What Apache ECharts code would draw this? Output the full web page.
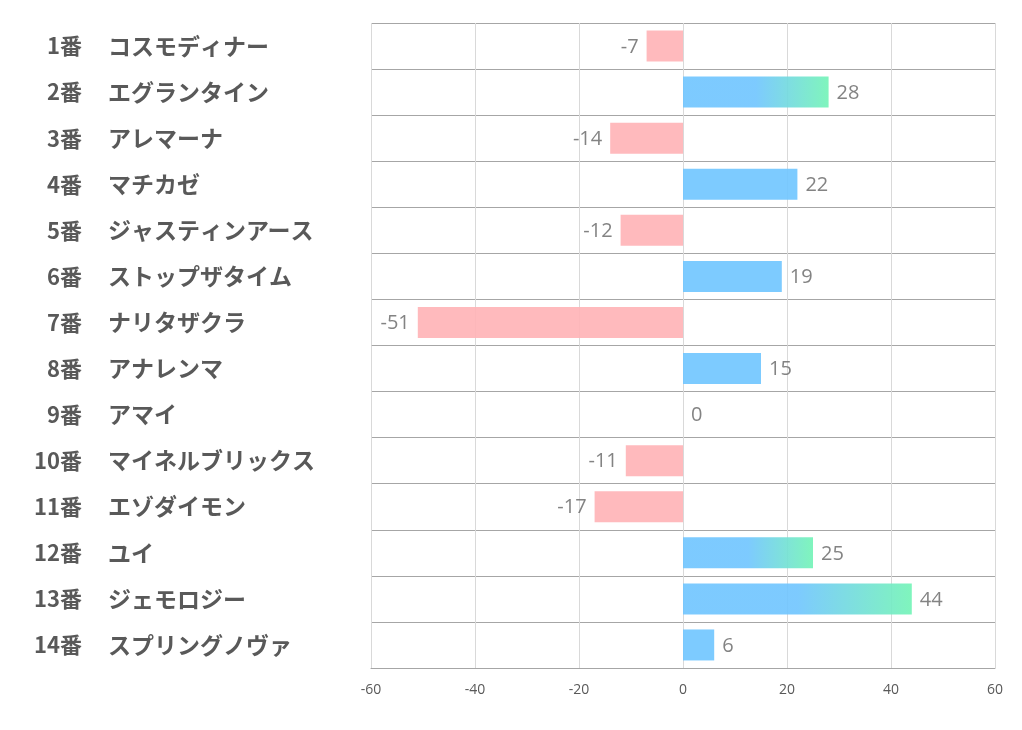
<!DOCTYPE html>
<html>
<head>
<meta charset="utf-8">
<script src="https://cdn.jsdelivr.net/npm/echarts@6/dist/echarts.min.js"></script>
<style>html,body{margin:0;padding:0;background:#fff;}#c{width:1022px;height:730px;}</style>
</head>
<body>
<div id="c"></div>
<script>
const numbers = ['1番','2番','3番','4番','5番','6番','7番','8番','9番','10番','11番','12番','13番','14番'];
const names = ['コスモディナー','エグランタイン','アレマーナ','マチカゼ','ジャスティンアース','ストップザタイム','ナリタザクラ','アナレンマ','アマイ','マイネルブリックス','エゾダイモン','ユイ','ジェモロジー','スプリングノヴァ'];
const values = [-7, 28, -14, 22, -12, 19, -51, 15, 0, -11, -17, 25, 44, 6];
const xTicks = [-60, -40, -20, 0, 20, 40, 60];

const BLUE = '#6fc5ff', GREEN = '#72f4b6', PINK = '#ffb2b6';

const data = values.map(v => {
  let color;
  if (v < 0) color = PINK;
  else if (v >= 25) color = {type:'linear', x:0, y:0, x2:1, y2:0, colorStops:[{offset:0,color:BLUE},{offset:0.5,color:BLUE},{offset:1,color:GREEN}]};
  else color = BLUE;
  return {value: v, itemStyle: {color: color, opacity: 0.9},
    label: {position: v < 0 ? 'left' : 'right'}};
});

const labelFont = {fontWeight: 'bold', color: '#595959', fontFamily: '"Noto Sans CJK JP", sans-serif'};

const chart = echarts.init(document.getElementById('c'), null, {renderer:'canvas'});
chart.setOption({
  animation: false,
  grid: {left: 371, right: 27, top: 23, bottom: 62, containLabel: false},
  xAxis: {
    type: 'value', min: xTicks[0], max: xTicks[xTicks.length-1], interval: 20,
    axisLine: {show: true, onZero: false, lineStyle: {color: '#a6a6a6', width: 1}},
    axisTick: {show: false},
    splitLine: {show: true, lineStyle: {color: '#d9d9d9', width: 1}},
    axisLabel: {color: '#595959', fontSize: 14, margin: 15, fontFamily: '"Open Sans", sans-serif'}
  },
  yAxis: [{
    type: 'category', data: numbers, inverse: true, position: 'left', offset: 0,
    axisLine: {show: false, onZero: false},
    axisTick: {show: false},
    splitLine: {show: true, lineStyle: {color: '#a6a6a6', width: 1}},
    axisLabel: Object.assign({margin: 289, align: 'right', fontSize: 22, padding: [0,0,3,0]}, labelFont)
  }, {
    type: 'category', data: names, inverse: true, position: 'left', offset: 0,
    axisLine: {show: false, onZero: false},
    axisTick: {show: false},
    splitLine: {show: false},
    axisLabel: Object.assign({margin: 263, align: 'left', fontSize: 23, padding: [0,0,3,0]}, labelFont)
  }],
  series: [{
    type: 'bar', data: data, barWidth: 31, yAxisIndex: 0,
    label: {show: true, color: '#767676', fontSize: 20, distance: 8, offset: [0, 1], fontFamily: '"Open Sans", sans-serif'}
  }]
});
</script>
</body>
</html>
